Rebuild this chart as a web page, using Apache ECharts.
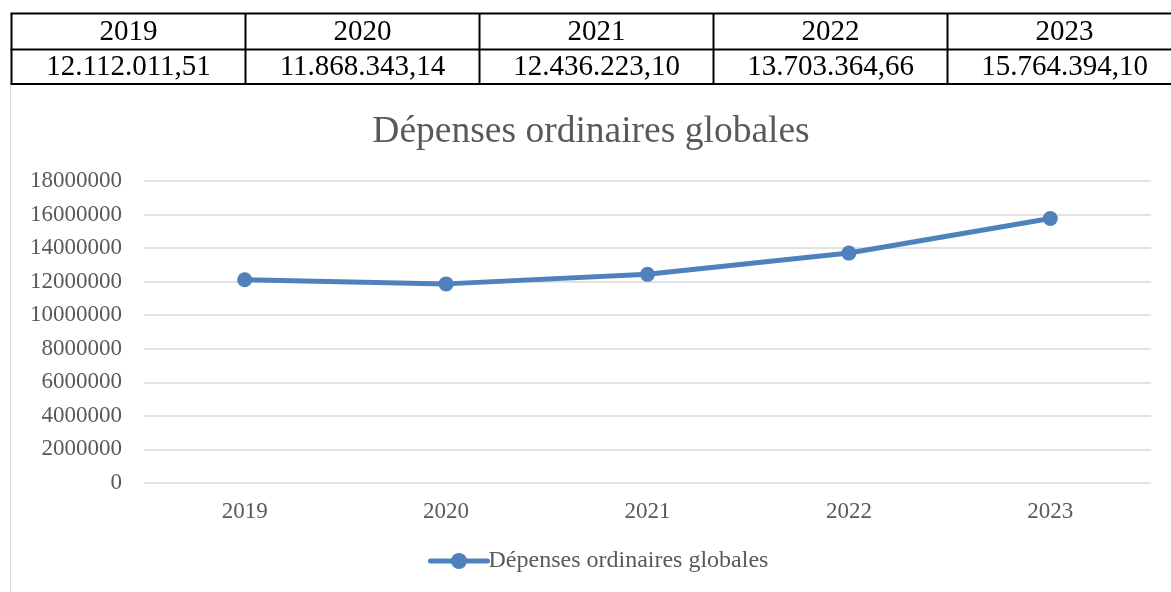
<!DOCTYPE html>
<html>
<head>
<meta charset="utf-8">
<script src="https://cdn.jsdelivr.net/npm/echarts@6/dist/echarts.min.js"></script>
<style>
  html, body { margin: 0; padding: 0; background: #fff; width: 1171px; height: 592px; overflow: hidden; position: relative; }
  #table { position: absolute; left: 0; top: 0; width: 1171px; height: 86px; }
  #chart {
    position: absolute; left: 10px; top: 85px; width: 1161px; height: 507px;
    border-left: 1px solid #d9d9d9; box-sizing: border-box;
  }
</style>
</head>
<body>
<div id="table"></div>
<div id="chart"></div>
<script>
const years = ['2019', '2020', '2021', '2022', '2023'];
const depenses = [12112011.51, 11868343.14, 12436223.10, 13703364.66, 15764394.10];
const tableLabels = ['12.112.011,51', '11.868.343,14', '12.436.223,10', '13.703.364,66', '15.764.394,10'];
const seriesName = 'Dépenses ordinaires globales';

const textColor = '#595959';
const font = '"Liberation Serif", "Times New Roman", serif';

// tableau des valeurs au-dessus du graphique (dessiné en canvas pour garder la police)
const colW = 234, x0 = 11.5, yTop = 13.5, yMid = 49.5, yBot = 84;
const tableEls = [];
const line = (x1, y1, x2, y2) => ({
  type: 'line', shape: { x1, y1, x2, y2 }, style: { stroke: '#000', lineWidth: 2 },
});
const right = x0 + colW * years.length;
tableEls.push(line(x0 - 1, yTop, right, yTop));
tableEls.push(line(x0 - 1, yMid, right, yMid));
tableEls.push(line(x0 - 1, yBot, right, yBot));
for (let i = 0; i <= years.length; i++) {
  tableEls.push(line(x0 + colW * i, yTop, x0 + colW * i, yBot));
}
years.forEach((y, i) => {
  const cx = x0 + colW * i + colW / 2;
  tableEls.push({
    type: 'text', x: cx, y: (yTop + yMid) / 2 + 1,
    style: { text: y, font: '29px ' + font, fill: '#000', align: 'center', verticalAlign: 'middle' },
  });
  tableEls.push({
    type: 'text', x: cx, y: (yMid + yBot) / 2 + 1,
    style: { text: tableLabels[i], font: '29px ' + font, fill: '#000', align: 'center', verticalAlign: 'middle' },
  });
});
const table = echarts.init(document.getElementById('table'));
table.setOption({ animation: false, graphic: tableEls });

const chart = echarts.init(document.getElementById('chart'));
chart.setOption({
  animation: false,
  title: {
    text: seriesName,
    left: 'center',
    top: 23,
    textStyle: { fontFamily: font, fontSize: 37.5, fontWeight: 'normal', color: textColor },
  },
  grid: { left: 133, right: 20, top: 96, bottom: 109 },
  legend: {
    bottom: 14,
    left: 412,
    itemWidth: 57,
    itemHeight: 20,
    itemGap: 0,
    data: [seriesName],
    lineStyle: { width: 5, cap: 'round' },
    textStyle: { fontFamily: font, fontSize: 24, color: textColor, padding: [0, 0, 0, -4] },
  },
  xAxis: {
    type: 'category',
    data: years,
    boundaryGap: true,
    axisLine: { show: false },
    axisTick: { show: false },
    axisLabel: { fontFamily: font, fontSize: 23, color: textColor, margin: 17 },
  },
  yAxis: {
    type: 'value',
    min: 0,
    max: 18000000,
    interval: 2000000,
    axisLine: { show: false },
    axisTick: { show: false },
    axisLabel: { fontFamily: font, fontSize: 23, color: textColor, margin: 22, formatter: (v) => String(v) },
    splitLine: { lineStyle: { color: '#d9d9d9', width: 1.5 } },
  },
  series: [{
    name: seriesName,
    type: 'line',
    data: depenses,
    symbol: 'circle',
    symbolSize: 15,
    lineStyle: { color: '#4f81bd', width: 5, cap: 'round' },
    itemStyle: { color: '#4f81bd' },
  }],
});
</script>
</body>
</html>
